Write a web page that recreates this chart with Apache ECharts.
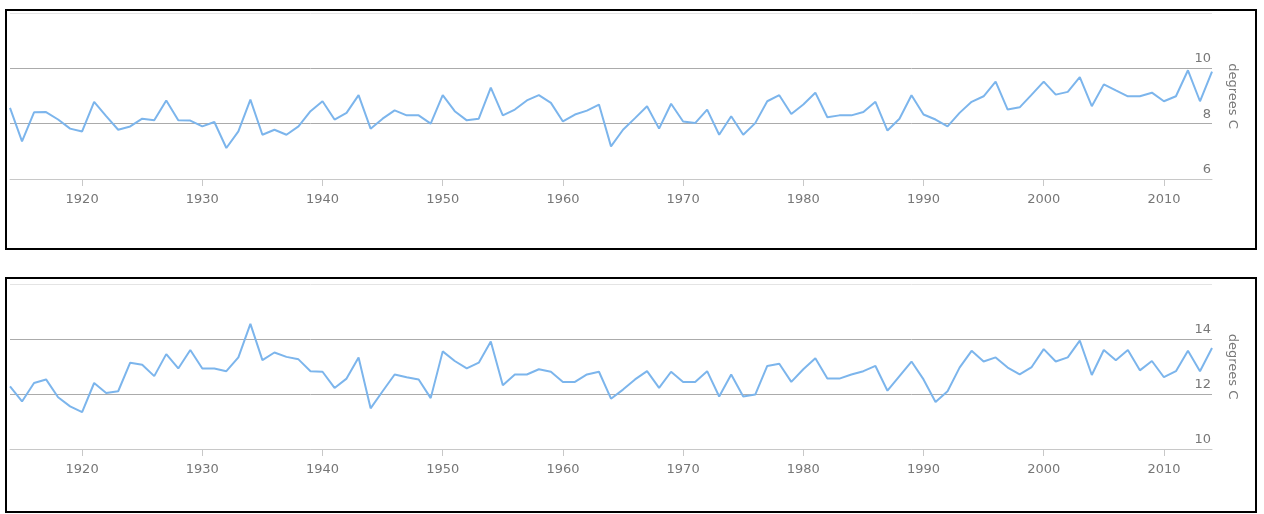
<!DOCTYPE html>
<html>
<head>
<meta charset="utf-8">
<script src="https://cdn.jsdelivr.net/npm/echarts@6/dist/echarts.min.js"></script>
<style>
  body {margin: 0; background: #fff; width: 1264px; height: 514px; overflow: hidden; position: relative;}
  .box {position: absolute; left: 5px; width: 1252px; border: 2px solid #000; box-sizing: border-box;}
  .box div {width: 100%; height: 100%;}
</style>
</head>
<body>
<div class="box" style="top: 9px; height: 241px;"><div id="chart_top"></div></div>
<div class="box" style="top: 277px; height: 236px;"><div id="chart_bottom"></div></div>
<script>
var years = [];
for (var y = 1914; y <= 2014; y++) years.push(String(y));

var x_tick_years = [1920, 1930, 1940, 1950, 1960, 1970, 1980, 1990, 2000, 2010];

// upper panel, degrees C
var top_values = [
    8.57, 7.36, 8.41, 8.42, 8.15, 7.82, 7.72, 8.79, 8.27, 7.78,
    7.90, 8.18, 8.12, 8.84, 8.12, 8.11, 7.90, 8.06, 7.12, 7.72,
    8.87, 7.60, 7.78, 7.60, 7.90, 8.45, 8.81, 8.15, 8.39, 9.03,
    7.82, 8.18, 8.48, 8.30, 8.30, 8.00, 9.03, 8.45, 8.12, 8.18,
    9.30, 8.30, 8.51, 8.84, 9.03, 8.75, 8.08, 8.33, 8.47, 8.69,
    7.18, 7.78, 8.20, 8.63, 7.82, 8.72, 8.08, 8.02, 8.51, 7.60,
    8.27, 7.60, 8.02, 8.81, 9.03, 8.35, 8.69, 9.12, 8.23, 8.30,
    8.30, 8.42, 8.79, 7.75, 8.18, 9.03, 8.33, 8.15, 7.90, 8.39,
    8.79, 8.99, 9.52, 8.51, 8.59, 9.05, 9.52, 9.05, 9.15, 9.68,
    8.63, 9.42, 9.20, 8.99, 8.99, 9.12, 8.81, 8.99, 9.93, 8.81,
    9.88
];
var top_y_ticks = [6, 8, 10];

// lower panel, degrees C
var bottom_values = [
    12.28, 11.73, 12.40, 12.53, 11.88, 11.55, 11.34, 12.40, 12.04, 12.10,
    13.14, 13.06, 12.65, 13.45, 12.93, 13.60, 12.93, 12.93, 12.83, 13.33,
    14.55, 13.23, 13.51, 13.35, 13.26, 12.83, 12.81, 12.22, 12.56, 13.33,
    11.48, 12.10, 12.71, 12.61, 12.53, 11.85, 13.55, 13.20, 12.93, 13.14,
    13.91, 12.32, 12.71, 12.71, 12.90, 12.81, 12.44, 12.44, 12.71, 12.81,
    11.83, 12.16, 12.53, 12.83, 12.22, 12.81, 12.44, 12.44, 12.83, 11.91,
    12.71, 11.91, 11.98, 13.02, 13.10, 12.44, 12.90, 13.30, 12.56, 12.56,
    12.71, 12.83, 13.02, 12.12, 12.65, 13.18, 12.53, 11.71, 12.10, 12.96,
    13.57, 13.18, 13.33, 12.96, 12.71, 12.98, 13.63, 13.18, 13.33, 13.94,
    12.69, 13.60, 13.23, 13.60, 12.86, 13.20, 12.61, 12.83, 13.57, 12.83,
    13.67
];
var bottom_y_ticks = [10, 12, 14];

function make_chart(el, values, y_ticks, grid) {
    var y_min = y_ticks[0];
    var y_max = y_ticks[y_ticks.length - 1] + 2;
    var is_year_tick = function (index, value) {return x_tick_years.indexOf(+value) >= 0;};
    var chart = echarts.init(el, null, {renderer: 'canvas'});
    chart.setOption({
        animation: false,
        textStyle: {fontFamily: 'DejaVu Sans'},
        grid: Object.assign({containLabel: false}, grid),
        xAxis: {
            type: 'category',
            data: years,
            boundaryGap: false,
            axisLine: {show: true, lineStyle: {color: '#c8c8c8', width: 1}},
            axisTick: {show: true, interval: is_year_tick, length: 7, lineStyle: {color: '#c8c8c8'}},
            axisLabel: {interval: is_year_tick, color: '#777', fontSize: 13, margin: 14},
            splitLine: {show: false}
        },
        yAxis: {
            type: 'value',
            position: 'right',
            min: y_min,
            max: y_max,
            interval: 2,
            name: 'degrees C',
            nameLocation: 'middle',
            nameRotate: -90,
            nameGap: 14,
            nameTextStyle: {color: '#777', fontSize: 13},
            axisLine: {show: false},
            axisTick: {show: false},
            axisLabel: {
                inside: true,
                margin: 1,
                color: '#777',
                fontSize: 13,
                verticalAlign: 'bottom',
                padding: [0, 0, 3, 0],
                formatter: function (v) {return y_ticks.indexOf(v) >= 0 ? String(v) : '';}
            },
            splitLine: {show: true, lineStyle: {color: ['#dcdcdc', '#ababab', '#ababab', '#e4e4e4'], width: 1}}
        },
        series: [{
            type: 'line',
            data: values,
            showSymbol: false,
            lineStyle: {color: '#7cb5ec', width: 2},
            itemStyle: {color: '#7cb5ec'}
        }]
    });
    return chart;
}

make_chart(document.getElementById('chart_top'), top_values, top_y_ticks,
    {left: 3, right: 43, top: 2, bottom: 69});
make_chart(document.getElementById('chart_bottom'), bottom_values, bottom_y_ticks,
    {left: 3, right: 43, top: 5, bottom: 62});
</script>
</body>
</html>
